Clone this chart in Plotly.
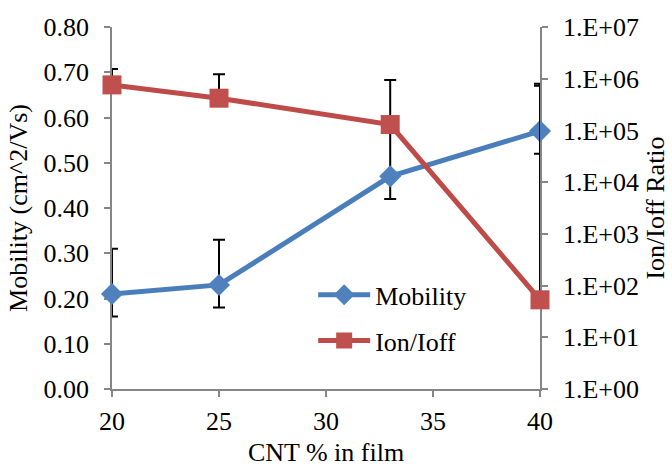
import plotly.graph_objects as go

# CNT loading in the film (%)
cnt_percent = [20, 25, 33, 40]

# Field-effect mobility (cm^2/Vs) with asymmetric error
mobility = [0.21, 0.23, 0.47, 0.57]
mobility_err_plus = [0.10, 0.10, 0.10, 0.10]
mobility_err_minus = [0.05, 0.05, 0.05, 0.05]

# On/off current ratio; only the upper error is shown on the log axis
ion_ioff = [7.6e5, 4.2e5, 1.3e5, 53]
ion_ioff_err_plus = [7.8e5, 8.0e5, 8.1e5, 8.0e5]
ion_ioff_err_minus = [0, 0, 0, 0]

# Axis ticks
x_ticks = [20, 25, 30, 35, 40]
ratio_tickvals = [1, 10, 100, 1e3, 1e4, 1e5, 1e6, 1e7]
ratio_ticktext = ["1.E+00", "1.E+01", "1.E+02", "1.E+03",
                  "1.E+04", "1.E+05", "1.E+06", "1.E+07"]

BLUE_LINE = "#4A7EBB"
BLUE_MARK = "#4F81BD"
RED_LINE = "#BE4B48"
RED_MARK = "#C0504D"
AXIS_GRAY = "#868686"
FONT = "'Times New Roman', 'Liberation Serif', 'DejaVu Serif', serif"
FS = 26

err_style = dict(type="data", symmetric=False, color="black",
                 thickness=2, width=6)

fig = go.Figure()

# Ion/Ioff error bars go underneath everything else
fig.add_trace(go.Scatter(
    x=cnt_percent, y=ion_ioff, yaxis="y2", mode="markers",
    marker=dict(size=1, opacity=0), showlegend=False, hoverinfo="skip",
    cliponaxis=False,
    error_y=dict(array=ion_ioff_err_plus, arrayminus=ion_ioff_err_minus,
                 **err_style),
))

fig.add_trace(go.Scatter(
    x=cnt_percent, y=mobility, name="Mobility", mode="lines+markers",
    legendgroup="mob",
    line=dict(color=BLUE_LINE, width=5),
    marker=dict(symbol="diamond", size=17, color=BLUE_MARK,
                line=dict(color=BLUE_MARK, width=0)),
    cliponaxis=False,
    error_y=dict(array=mobility_err_plus, arrayminus=mobility_err_minus,
                 **err_style),
))

fig.add_trace(go.Scatter(
    x=cnt_percent, y=ion_ioff, yaxis="y2", name="Ion/Ioff",
    mode="lines+markers", legendgroup="ratio",
    line=dict(color=RED_LINE, width=5),
    marker=dict(symbol="square", size=19, color=RED_MARK,
                line=dict(color=RED_MARK, width=0)),
    cliponaxis=False,
))

axis_common = dict(showline=True, linecolor=AXIS_GRAY, linewidth=1.5,
                   ticks="outside", tickcolor=AXIS_GRAY, ticklen=6,
                   tickwidth=1.5, showgrid=False, zeroline=False,
                   layer="below traces", automargin=False,
                   tickfont=dict(family=FONT, size=FS, color="black"))

fig.update_layout(
    width=672, height=467,
    margin=dict(l=112, r=132, t=27, b=78),
    paper_bgcolor="white", plot_bgcolor="white",
    font=dict(family=FONT, size=FS, color="black"),
    showlegend=True,
    legend=dict(x=0.47, y=0.325, xanchor="left", yanchor="top",
                bgcolor="rgba(0,0,0,0)", itemwidth=52,
                font=dict(family=FONT, size=FS, color="black"),
                tracegroupgap=9),
    xaxis=dict(range=[20, 40], tickvals=x_ticks, ticklabelstandoff=2,
               title=dict(text="CNT % in film", standoff=15,
                          font=dict(family=FONT, size=FS)),
               **axis_common),
    yaxis=dict(range=[0, 0.8], dtick=0.1, tickformat=".2f",
               ticklabelstandoff=10,
               title=dict(text="Mobility (cm^2/Vs)", standoff=8,
                          font=dict(family=FONT, size=FS)),
               **axis_common),
    yaxis2=dict(type="log", range=[0, 7], overlaying="y", side="right",
                tickvals=ratio_tickvals, ticktext=ratio_ticktext,
                ticklabelstandoff=10,
                title=dict(text="Ion/Ioff Ratio", standoff=8,
                           font=dict(family=FONT, size=FS)),
                **axis_common),
)

fig.write_html("out.html")
